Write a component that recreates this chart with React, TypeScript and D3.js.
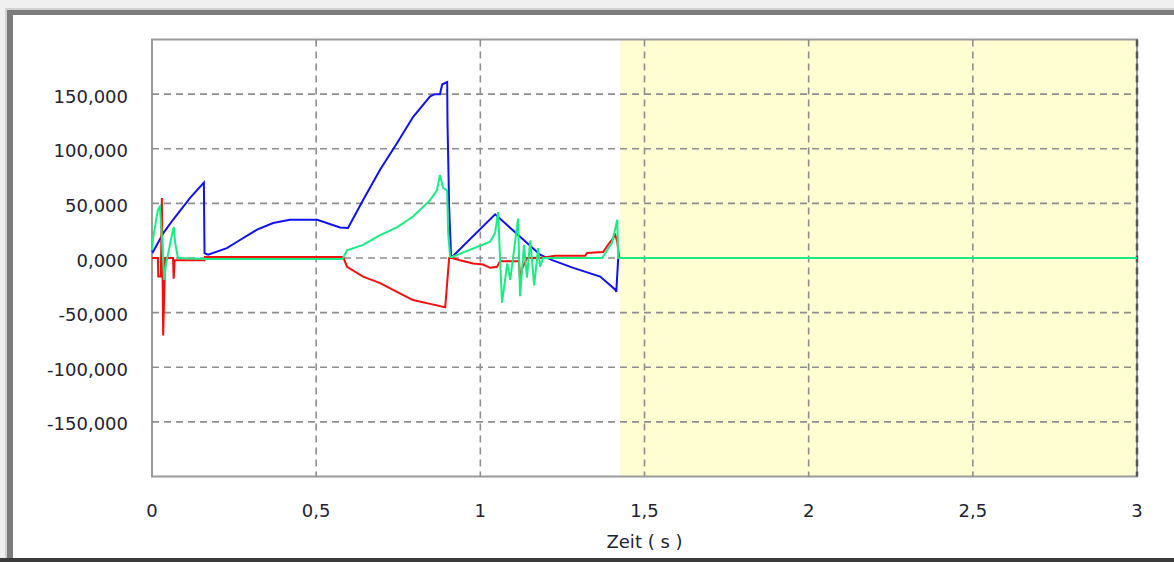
import React from "react";
import * as d3 from "d3";

// ---- data (time in s, values in display units) ----
const blueT = [0, 0.003, 0.035, 0.064, 0.116, 0.158, 0.159, 0.16, 0.171, 0.228, 0.268, 0.32, 0.369, 0.42, 0.503, 0.573, 0.597, 0.643, 0.695, 0.746, 0.795, 0.847, 0.862, 0.877, 0.884, 0.899, 0.9, 0.905, 0.908, 0.911, 0.914, 1.045, 1.182, 1.219, 1.283, 1.365, 1.411, 1.414, 1.42, 3];
const blueV = [7, 5.5, 23, 35, 55, 69, 35, 4.5, 3, 9, 16.5, 26, 32, 35, 35, 28, 27.5, 53, 81, 105, 129, 148, 150, 150, 159, 161, 124, 47, 23, 1, 1, 40, 3, -2, -9, -17, -29, -31, 0, 0];

const redT = [0, 0.018, 0.019, 0.027, 0.03, 0.034, 0.04, 0.064, 0.066, 0.069, 0.16, 0.161, 0.582, 0.594, 0.643, 0.695, 0.746, 0.795, 0.847, 0.893, 0.896, 0.905, 0.914, 0.938, 0.978, 1.008, 1.03, 1.051, 1.06, 1.118, 1.121, 1.127, 1.142, 1.182, 1.228, 1.319, 1.325, 1.374, 1.389, 1.404, 1.411, 1.417, 1.423, 3];
const redV = [0, 0, -17, -17, 55, -71, 0, 0, -19, -2, -2, 1, 1, -8, -17, -23, -31, -38.5, -42, -45, -34, 0, 0, -2, -5, -6, -9, -8, -3, -3, -22, -10, 0, 0, 2, 2, 4.5, 5.5, 12, 18, 21, 15, 0, 0];

const greenT = [0, 0.003, 0.018, 0.024, 0.03, 0.037, 0.043, 0.064, 0.067, 0.07, 0.079, 0.17, 0.58, 0.594, 0.643, 0.695, 0.746, 0.795, 0.847, 0.868, 0.877, 0.887, 0.899, 0.902, 0.908, 0.914, 1.03, 1.045, 1.054, 1.066, 1.082, 1.091, 1.115, 1.121, 1.133, 1.142, 1.152, 1.164, 1.176, 1.182, 1.191, 1.371, 1.401, 1.411, 1.417, 1.42, 3];
const greenV = [7, 18, 44, 47, 20, -20, -5, 26, 28, 15, 0, -1, -1, 7, 12, 21, 28, 38, 53, 62, 76, 64, 62, 23, 1, 1, 15, 23, 42, -41, -5, -20, 36, -35, 12, -18, 16, -25, 9, -8, 0, 0, 14, 27, 35, 0, 0];

const xTicks = [0, 0.5, 1, 1.5, 2, 2.5, 3];
const yTicks = [-150, -100, -50, 0, 50, 100, 150];
const xDomain = [0, 3];
const yDomain = [-200, 200];
const shadeStart = 1.426;
const xTitle = "Zeit ( s )";

const locale = d3.formatLocale({ decimal: ",", thousands: ".", grouping: [3], currency: ["", "€"], minus: "-" });
const fmtY = locale.format(".3f");
const fmtX = locale.format("~g");

export default function App() {
  const L = 152, R = 1137, T = 39.5, B = 476.5;
  const x = d3.scaleLinear().domain(xDomain).range([L, R]);
  const y = d3.scaleLinear().domain(yDomain).range([B, T]);
  const line = d3.line<[number, number]>().x((d) => x(d[0])).y((d) => y(d[1]));
  const series = [
    { t: blueT, v: blueV, c: "#1010f0" },
    { t: redT, v: redV, c: "#f01010" },
    { t: greenT, v: greenV, c: "#18ec84" },
  ];
  const font = "'DejaVu Sans', Verdana, sans-serif";
  return (
    <svg width={1174} height={562} style={{ position: "fixed", left: 0, top: 0, display: "block" }}>
      <rect x={0} y={0} width={1174} height={562} fill="#f0f0f0" />
      {/* sunken frame */}
      <rect x={5} y={8} width={1200} height={560} fill="#d2d2d2" />
      <rect x={7} y={10} width={1200} height={560} fill="#7c7c7c" />
      <rect x={13} y={15} width={1200} height={543} fill="#ffffff" />
      <rect x={0} y={558} width={1174} height={4} fill="#3a3a3a" />
      {/* plot area */}
      <rect x={L} y={T} width={R - L} height={B - T} fill="#ffffff" />
      <rect x={x(shadeStart)} y={T} width={R - x(shadeStart)} height={B - T} fill="#fffdd2" />
      <rect x={L} y={T} width={R - L} height={B - T} fill="none" stroke="#9a9a9a" strokeWidth={2} />
      {yTicks.map((v) => (
        <line key={"gy" + v} x1={L} x2={R} y1={y(v)} y2={y(v)} stroke="#8e8e8e" strokeWidth={1.6} strokeDasharray="7,5" />
      ))}
      {xTicks.filter((v) => v > 0).map((v) => (
        <line key={"gx" + v} x1={x(v)} x2={x(v)} y1={T} y2={B} stroke={v === 3 ? "#555" : "#8e8e8e"} strokeWidth={v === 3 ? 2.5 : 1.6} strokeDasharray="7,5" />
      ))}
      {series.map((s, i) => (
        <path key={i} d={line(s.t.map((t, j) => [t, s.v[j]] as [number, number])) || ""} fill="none" stroke={s.c} strokeWidth={2} strokeLinejoin="miter" />
      ))}
      {yTicks.map((v) => (
        <text key={"ty" + v} x={128} y={y(v) + 8.5} textAnchor="end" fontFamily={font} fontSize={18} fill="#222230">
          {fmtY(v)}
        </text>
      ))}
      {xTicks.map((v) => (
        <text key={"tx" + v} x={x(v)} y={517} textAnchor="middle" fontFamily={font} fontSize={18} fill="#222230">
          {fmtX(v)}
        </text>
      ))}
      <text x={(L + R) / 2} y={548} textAnchor="middle" fontFamily={font} fontSize={18} fill="#222230">
        {xTitle}
      </text>
    </svg>
  );
}
